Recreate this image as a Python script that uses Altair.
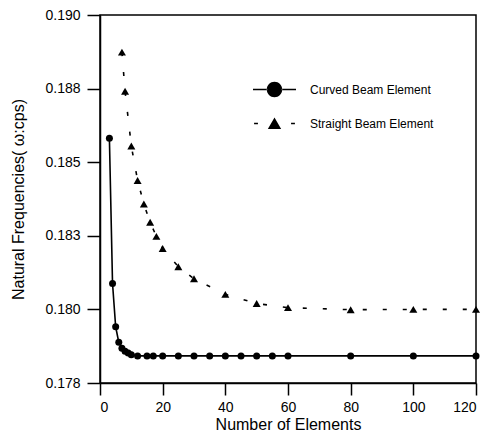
import altair as alt
import pandas as pd

# ---- data ----
curved_x = [3, 4, 5, 6, 7, 8, 9, 10, 12, 15, 17, 20, 25, 30, 35, 40, 45, 50, 55, 60, 80, 100, 120]
curved_y = [0.18581, 0.18088, 0.17941, 0.17888, 0.17868, 0.17858, 0.17852, 0.17846, 0.17842,
            0.17842, 0.17842, 0.17842, 0.17842, 0.17842, 0.17842, 0.17842, 0.17842, 0.17842,
            0.17842, 0.17842, 0.17842, 0.17842, 0.17842]
straight_x = [7, 8, 10, 12, 14, 16, 18, 20, 25, 30, 40, 50, 60, 80, 100, 120]
straight_y = [0.18874, 0.18741, 0.18555, 0.18438, 0.18358, 0.18296, 0.18248, 0.18207,
              0.18145, 0.18104, 0.18051, 0.18020, 0.18006, 0.17999, 0.18000, 0.18000]
series_names = ["Curved Beam Element", "Straight Beam Element"]
x_ticks = [0, 10, 20, 30, 40, 50, 60, 70, 80, 90, 100, 110, 120]
y_ticks = [0.1775, 0.17875, 0.18, 0.18125, 0.1825, 0.18375, 0.185, 0.18625, 0.1875, 0.18875, 0.19]

df_c = pd.DataFrame({"n": curved_x, "f": curved_y, "series": series_names[0]})
df_s = pd.DataFrame({"n": straight_x, "f": straight_y, "series": series_names[1]})
df_all = pd.concat([df_c, df_s], ignore_index=True)

FONT = "Liberation Sans"

x_enc = alt.X(
    "n:Q",
    scale=alt.Scale(domain=[0, 120], nice=False),
    axis=alt.Axis(
        title="Number of Elements",
        values=x_ticks,
        labelExpr="datum.value % 20 === 0 ? datum.label : ''",
        tickSize={"condition": {"test": "datum.value % 20 !== 0", "value": 6}, "value": 12},
        labelPadding=5,
        titlePadding=2,
        grid=False,
    ),
)
y_enc = alt.Y(
    "f:Q",
    scale=alt.Scale(domain=[0.1775, 0.19], nice=False, zero=False),
    axis=alt.Axis(
        title="Natural Frequencies( \u03c9:cps)",
        values=y_ticks,
        labelExpr="round(datum.value*800) % 2 === 1 ? '' : format(datum.value + 0.00001, '.3f')",
        tickSize={"condition": {"test": "round(datum.value*800) % 2 === 1", "value": 7}, "value": 13},
        labelPadding=7,
        titlePadding=18,
        grid=False,
    ),
)

line_c = alt.Chart(df_c).mark_line(color="black", strokeWidth=1.6).encode(x=x_enc, y=y_enc)
pts_c = alt.Chart(df_c).mark_point(shape="circle", filled=True, color="black", size=49, opacity=1).encode(x="n:Q", y="f:Q")
line_s = alt.Chart(df_s).mark_line(color="black", strokeWidth=1.6, strokeDash=[4, 16]).encode(x="n:Q", y="f:Q")
pts_s = alt.Chart(df_s).mark_point(shape="triangle-up", filled=True, color="black", size=64, opacity=1).encode(x="n:Q", y="f:Q")

# legend symbols as filled paths (unit box -1..1, scaled by sqrt(symbolSize)/2)
sym_curved = ("M-1,-0.04L-0.34,-0.04L-0.34,0.04L-1,0.04Z"
              "M0.34,-0.04L1,-0.04L1,0.04L0.34,0.04Z"
              "M-0.36,0A0.36,0.36 0 1,0 0.36,0A0.36,0.36 0 1,0 -0.36,0Z")
sym_straight = ("M-0.95,-0.04L-0.77,-0.04L-0.77,0.04L-0.95,0.04Z"
                "M0.77,-0.04L0.95,-0.04L0.95,0.04L0.77,0.04Z"
                "M-0.31,0.25L0.31,0.25L0,-0.28Z")

legend_layer = alt.Chart(df_all).mark_point(
    filled=True, color="black", opacity=0
).encode(
    x="n:Q",
    y="f:Q",
    shape=alt.Shape(
        "series:N",
        scale=alt.Scale(domain=series_names, range=[sym_curved, sym_straight]),
        legend=alt.Legend(
            title=None,
            orient="none",
            legendX=153,
            legendY=53,
            symbolSize=1849,
            symbolOpacity=1,
            symbolFillColor="black",
            symbolStrokeWidth=0,
            labelFont=FONT,
            labelFontSize=12,
            labelColor="black",
            labelOffset=14,
            rowPadding=4,
            padding=0,
        ),
    ),
)

chart = alt.layer(line_c, line_s, pts_c, pts_s, legend_layer).properties(
    width=376,
    height=368,
    autosize=alt.AutoSizeParams(type="none"),
    padding={"left": 92, "top": 7, "right": 10, "bottom": 48},
).configure_view(
    stroke="black", strokeWidth=1.5
).configure_axis(
    domainColor="black", domainWidth=1.5,
    tickColor="black", tickWidth=1.5,
    labelFont=FONT, labelFontSize=14, labelColor="black",
    titleFont=FONT, titleFontSize=16, titleColor="black", titleFontWeight="normal",
)

chart.save("out.html", embed_options={"renderer": "svg", "actions": False})
